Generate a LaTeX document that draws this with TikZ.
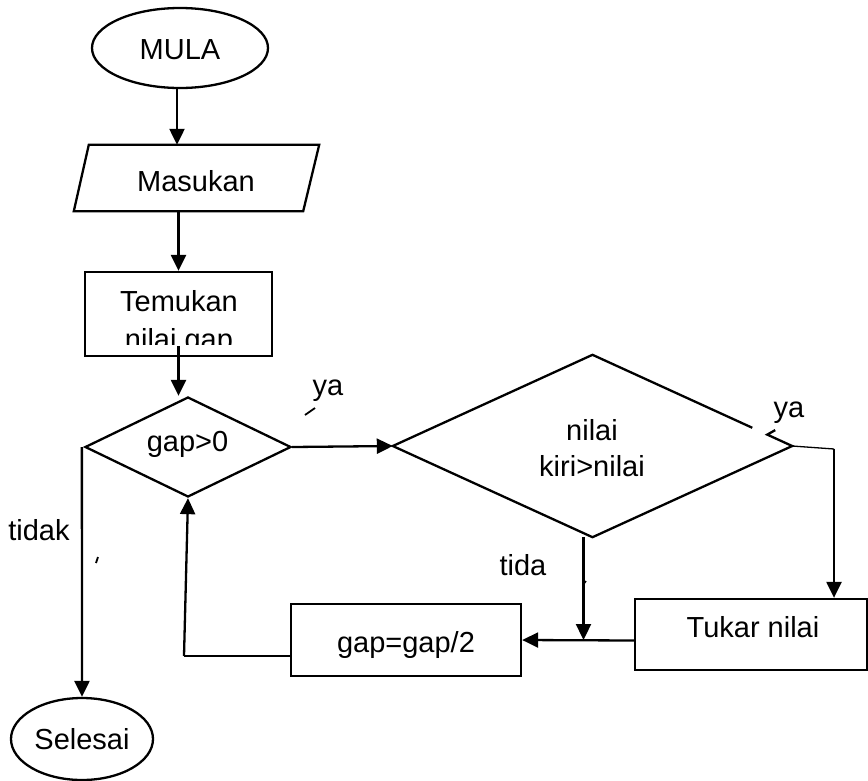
\documentclass[tikz,border=0pt]{standalone}
\usepackage{fontspec}
\setmainfont{Liberation Sans}
\usetikzlibrary{arrows.meta,shapes.geometric,calc}
\begin{document}
\begin{tikzpicture}[x=1pt,y=-1pt,
  outline/.style={draw, line width=2.3pt, inner sep=0pt},
  term/.style={outline, ellipse},
  boxnode/.style={outline, rectangle},
  ghost/.style={inner sep=0pt, rectangle},
  flow/.style={line width=2.3pt},
  hair/.style={line width=1.3pt},
  arr/.style={flow, -{Triangle[length=16pt,width=15pt]}},
  txt/.style={font=\fontsize{29}{34}\selectfont, anchor=base, inner sep=0pt},
]
\useasboundingbox (0,0) rectangle (868,780);

% start terminal
\node[term, minimum width=176pt, minimum height=80pt] (mula) at (180,48) {};
\node[txt] (mulaT) at (180,59.3) {MULA};

% input parallelogram
\node[ghost, minimum width=245pt, minimum height=66pt] (masukan) at (196.5,178) {};
\draw[flow] ($(masukan.north west)+(15,0)$) -- (masukan.north east)
  -- ($(masukan.south east)+(-16,0)$) -- (masukan.south west) -- cycle;
\node[txt] (masukanT) at (196,191.7) {Masukan};

% process: find gap (second line cut by the frame)
\node[boxnode, minimum width=187pt, minimum height=84pt] (temukan) at (178.5,314) {};
\begin{scope}
  \clip (temukan.north west) rectangle ([yshift=13pt]temukan.south east);
  \node[txt] (temukanA) at (179,311) {Temukan};
  \node[txt] (temukanB) at (179,349) {nilai gap};
\end{scope}

% decision gap>0
\node[outline, diamond, minimum width=206pt, minimum height=100pt] (gap) at (188,447) {};
\node[txt] (gapT) at (187.5,451) {gap>0};

% decision: compare values (upper right edge broken)
\node[diamond, inner sep=0pt, minimum width=399pt, minimum height=182pt] (cmp) at (592.5,446) {};
\draw[flow] ($(cmp.east)!0.2!(cmp.north)$) -- (cmp.north) -- (cmp.west)
  -- (cmp.south) -- (cmp.east) -- ($(cmp.east)!0.125!(cmp.north)$) -- ++(8,-4.5);
\node[txt] (cmpA) at (592,440) {nilai};
\node[txt] (cmpB) at (592,476.7) {kiri>nilai};

% swap
\node[boxnode, minimum width=232pt, minimum height=71pt] (tukar) at (751,634.5) {};
\node[txt] (tukarT) at (753,637) {Tukar nilai};

% halve gap
\node[boxnode, minimum width=230pt, minimum height=72pt] (halve) at (406,640) {};
\node[txt] (halveT) at (406,652) {gap=gap/2};

% end terminal
\node[term, minimum width=142pt, minimum height=82pt] (fin) at (82,739) {};
\node[txt] (finT) at (82,749) {Selesai};

% branch labels
\node[txt] (yaA) at (328,395) {ya};
\draw[line width=1.8pt] (305,415) -- (315,408);
\node[txt] (yaB) at (789,417) {ya};
\node[txt] (tidakT) at (39,540.7) {tidak};
\draw[line width=1.8pt] (96,563) -- (98,557);
\node[txt] (tidaT) at (523,575) {tida};
\draw[line width=1.5pt] (583,585) -- (586,581);

% connectors
\draw[arr] ([xshift=-3pt]mula.south) -- ([xshift=-3pt]mula.south |- masukan.north);
\draw[arr] (temukan.north |- masukan.south) -- (temukan.north);
\draw[arr] ([yshift=11pt]temukan.south) -- (temukan.south |- gap.north);
\draw[arr] (gap.east) -- (cmp.west);
\coordinate (bend) at (834,449);
\draw[hair] (cmp.east) -- (bend);
\draw[arr] (bend) -- (bend |- tukar.north);
\draw[arr] ([yshift=-6pt]tukar.west) -- (halve.east);
\draw[arr] ([xshift=-9pt]cmp.south) -- ([xshift=-9pt]cmp.south |- halve.east);
\coordinate (ret) at (184,656);
\draw[hair] ([yshift=-16pt]halve.west) -- (ret);
\draw[arr] (ret) -- (gap.south);
\draw[arr] ([xshift=-2pt]gap.west) -- (fin.north);
\end{tikzpicture}
\end{document}
